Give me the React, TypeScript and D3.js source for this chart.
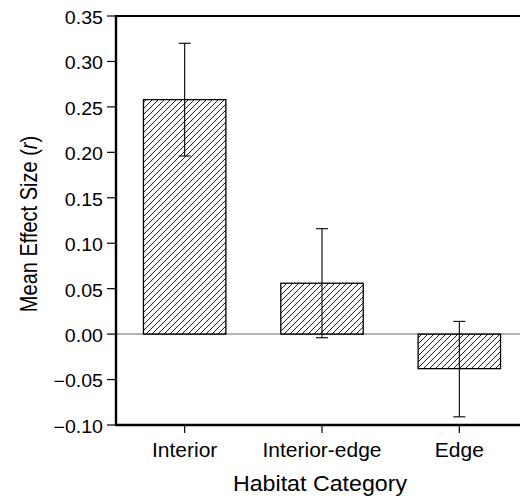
import React from "react";
import * as d3 from "d3";

const categories = ["Interior", "Interior-edge", "Edge"];
const means = [0.258, 0.056, -0.038];
const lowerCI = [0.196, -0.004, -0.091];
const upperCI = [0.32, 0.116, 0.014];
const yTicks = [-0.1, -0.05, 0, 0.05, 0.1, 0.15, 0.2, 0.25, 0.3, 0.35];

const W = 520;
const H = 500;
const left = 116;
const top = 16;
const bottom = 425;
const FONT = "'Liberation Sans', Arial, Helvetica, sans-serif";

export default function App() {
  const x = d3.scaleBand<string>().domain(categories).range([left, 528]).paddingInner(0.4).paddingOuter(0.2);
  const y = d3.scaleLinear().domain([-0.1, 0.35]).range([bottom, top]);
  const fmt = (v: number) => {
    const s = d3.format(".2f")(Math.abs(v));
    return v < -1e-9 ? "\u2212" + s : s;
  };
  const bw = x.bandwidth();
  return (
    <svg width={W} height={H} style={{ position: "absolute", left: 0, top: 0, background: "#fff" }} fontFamily={FONT}>
      <defs>
        <pattern id="hatch" patternUnits="userSpaceOnUse" width={6} height={6}>
          <path d="M0,6 L6,0 M-1.5,1.5 L1.5,-1.5 M4.5,7.5 L7.5,4.5" stroke="#000" strokeWidth={0.9} />
        </pattern>
      </defs>
      <rect x={0} y={0} width={W} height={H} fill="#fff" />
      {/* zero line */}
      <line x1={left} x2={W} y1={y(0)} y2={y(0)} stroke="#999" strokeWidth={1.5} />
      {/* bars */}
      {categories.map((c, i) => {
        const y0 = y(Math.max(0, means[i]));
        const y1 = y(Math.min(0, means[i]));
        return (
          <rect key={c} x={x(c)} y={y0} width={bw} height={y1 - y0} fill="url(#hatch)" stroke="#000" strokeWidth={1.3} />
        );
      })}
      {/* error bars */}
      {categories.map((c, i) => {
        const cx = (x(c) as number) + bw / 2;
        return (
          <g key={c} stroke="#000" strokeWidth={1.1}>
            <line x1={cx} x2={cx} y1={y(upperCI[i])} y2={y(lowerCI[i])} />
            <line x1={cx - 6} x2={cx + 6} y1={y(upperCI[i])} y2={y(upperCI[i])} />
            <line x1={cx - 6} x2={cx + 6} y1={y(lowerCI[i])} y2={y(lowerCI[i])} />
          </g>
        );
      })}
      {/* frame */}
      <line x1={left} x2={W} y1={top} y2={top} stroke="#000" strokeWidth={2.2} />
      <line x1={left} x2={W} y1={bottom} y2={bottom} stroke="#000" strokeWidth={2.4} />
      <line x1={left} x2={left} y1={top - 1} y2={bottom + 1} stroke="#000" strokeWidth={2.4} />
      {/* y ticks */}
      {yTicks.map((t) => (
        <g key={t}>
          <line x1={107} x2={left} y1={y(t)} y2={y(t)} stroke="#000" strokeWidth={1.2} />
          <text transform={`translate(103,${y(t)}) scale(1.12,1)`} dy="0.45em" textAnchor="end" fontSize={17.5} fill="#000">
            {fmt(t)}
          </text>
        </g>
      ))}
      {/* x ticks */}
      {categories.map((c) => {
        const cx = (x(c) as number) + bw / 2;
        return (
          <g key={c}>
            <line x1={cx} x2={cx} y1={bottom} y2={bottom + 8} stroke="#000" strokeWidth={1.2} />
            <text transform={`translate(${cx},457) scale(1.05,1)`} textAnchor="middle" fontSize={20} fill="#000">
              {c}
            </text>
          </g>
        );
      })}
      <text transform="translate(320,491) scale(1.08,1)" textAnchor="middle" fontSize={21.5} fill="#000">
        Habitat Category
      </text>
      <text transform="translate(37,224) rotate(-90) scale(1,1.2)" textAnchor="middle" fontSize={20} fill="#000">
        Mean Effect Size (<tspan fontStyle="italic">r</tspan>)
      </text>
    </svg>
  );
}
